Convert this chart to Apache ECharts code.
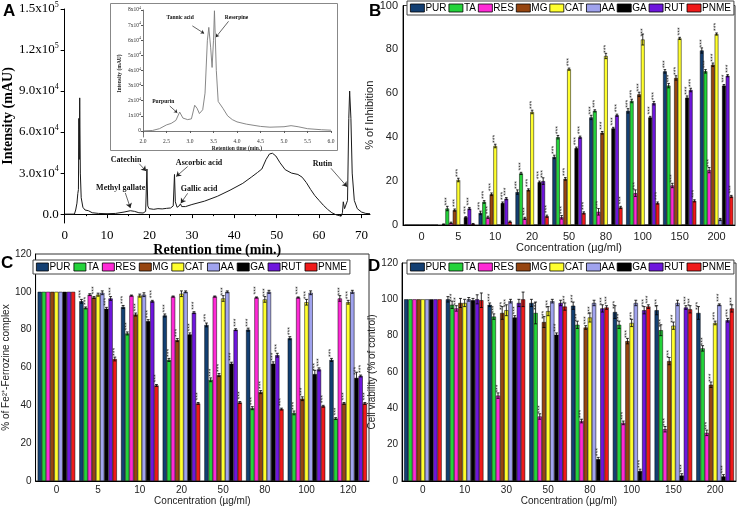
<!DOCTYPE html>
<html><head><meta charset="utf-8">
<script src="https://cdn.jsdelivr.net/npm/echarts@6/dist/echarts.min.js"></script>
<style>html,body{margin:0;padding:0;background:#fff}#c{width:737px;height:508px}</style>
</head><body><div id="c"></div>
<script>
// ---------- Panel A: HPLC chromatogram (time in min, intensity in mAU) ----------
const chromTime = [0,2.3,2.6,2.9,3.1,3.25,3.35,3.45,3.55,3.7,3.9,4.3,4.8,5.2,5.6,6.5,8,10,12,14,15.5,16.5,17.5,18.5,19.1,19.4,19.6,19.9,21,22,23,24,25,25.6,25.9,26.1,26.5,27,27.3,27.6,28.5,30,33,36,39,42,44,45.5,46.5,47.5,48.3,49,49.8,50.8,52,53.5,55,56,57,58,59,60,61,62,63,64,65.2,65.5,65.7,66,66.4,66.7,67.0,67.2,67.5,67.8,68.3,69,70,71,72];
const chromIntensity = [0,0,3000,8000,15000,18000,70000,40000,85000,30000,12000,5000,3000,4000,2500,1000,500,300,500,1500,2500,2000,1000,800,2000,33000,6000,4000,3500,4000,3800,4200,4500,6000,29000,9000,5000,6000,7500,5500,5500,7000,9500,13000,17500,22500,27000,30500,33000,40000,44000,44500,42500,37500,32500,30000,29000,27000,23000,18000,13500,10000,6500,3500,1000,-500,-1500,1000,9000,4000,3000,10000,70000,90000,70000,30000,10000,4000,1500,500,300];
const insetTime = [2.0,2.2,2.35,2.5,2.6,2.7,2.78,2.85,2.95,3.03,3.1,3.15,3.2,3.27,3.32,3.37,3.4,3.44,3.47,3.5,3.52,3.56,3.6,3.7,3.8,3.9,4.0,4.2,4.5,4.7,5.0,5.15,5.3,5.5,5.8,6.0];
const insetIntensity = [0,300,1500,4000,5000,7000,12500,8500,7500,8000,17000,15000,11500,14000,25000,60000,68500,55000,42000,60000,79500,40000,19500,15000,10000,7500,6000,4500,3000,2500,2800,3500,2800,1500,800,500];
const mainTicksX = [0,10,20,30,40,50,60,70];
const mainTicksY = [0,30000,60000,90000,120000,150000];
const insetTicksX = [2.0,2.5,3.0,3.5,4.0,4.5,5.0,5.5,6.0];
const insetTicksY = [0,10000,20000,30000,40000,50000,60000,70000,80000];
// peak annotations: [label, labelTime, labelIntensity, arrowFromTime, arrowFromInt, arrowToTime, arrowToInt]
const mainPeaks = [
  ['Catechin',14.5,39800,17.6,36800,19.2,31500],
  ['Methyl gallate',13.2,19300,14.3,15500,15.5,4500],
  ['Ascorbic acid',31.7,37300,29.0,34800,26.3,27500],
  ['Gallic acid',31.7,18200,29.0,15200,27.4,8000],
  ['Rutin',60.8,36800,62.8,33500,66.6,20000]
];
const insetPeaks = [
  ['Tannic acid',2.79,75000,3.05,69500,3.3,64500],
  ['Reserpine',3.99,75000,3.82,72500,3.55,62000],
  ['Purpurin',2.43,19500,2.57,16500,2.73,12000]
];

// ---------- Bar panels ----------
const compounds = ['PUR','TA','RES','MG','CAT','AA','GA','RUT','PNME'];
const compoundColors = ['#133f72','#24d33b','#ff2ad6','#964510','#ffff2e','#a0a3ee','#000000','#6e16dd','#f01a1a'];

// B: % of inhibition (mean, error)
const inhibitionConc = ['0','5','10','20','50','80','100','150','200'];
const inhPUR  = [0,0.3,5.5,15,31,49,52,70,79.5];
const inhTA   = [0,7.5,10.5,23.5,40,52,56.5,63.5,70];
const inhRES  = [0,1,3.5,3,3.5,6,14.5,18,25];
const inhMG   = [0,6.8,14,16,21,42,59.5,67,73];
const inhCAT  = [0,20.5,36,51.5,71,77,84.5,85,87];
const inhAA   = [0,0,0,0,0,0,0,0,2.5];
const inhGA   = [0,3.5,10,19.5,35,44,49,58,63.5];
const inhRUT  = [0,7.5,12,20,40,50,55.5,61.5,68];
const inhPNME = [0,0.5,1.5,4,5.5,8,10,11,13];
const errInhPUR  = [0,0.2,0.8,1,0.8,1,1,0.8,1.2];
const errInhTA   = [0,1,0.6,0.5,0.8,0.5,0.8,1,0.8];
const errInhRES  = [0,0.3,0.5,0.5,0.8,1.5,1.5,1,1.2];
const errInhMG   = [0,0.5,0.6,0.5,0.6,0.6,1,1,0.8];
const errInhCAT  = [0,0.8,0.8,0.8,0.5,1.2,2.5,0.5,0.5];
const errInhAA   = [0,0,0,0,0,0,0,0,0.5];
const errInhGA   = [0,0.3,0.5,0.5,0.5,0.5,0.5,0.8,0.5];
const errInhRUT  = [0,0.5,0.5,1.5,0.5,0.5,0.8,0.8,0.5];
const errInhPNME = [0,0.2,0.3,0.5,0.5,0.5,0.5,0.5,0.5];

// C: % of Fe2+-Ferrozine complex (mean, error)
const chelationConc = ['0','5','10','20','50','80','100','120'];
const chePUR  = [100,95,92,87.5,82.5,80,75.5,64];
const cheTA   = [100,91.5,78,64,53.5,38.5,36,33];
const cheRES  = [100,98.5,98,97.5,97.5,97,97,96.5];
const cheMG   = [100,97,88,74.5,56,47,43.5,41];
const cheCAT  = [100,98.5,98,99,96.5,96,94.5,94.5];
const cheAA   = [100,99.5,98.5,100,100,100,99.5,100];
const cheGA   = [100,91,84.5,77.5,62,62,56.5,54.5];
const cheRUT  = [100,96.5,95,89,80,66.5,59,55.5];
const chePNME = [100,64.5,50.5,41,41.5,38,39.5,41];
const errChePUR  = [0,1,0.8,0.8,1,0.8,0.8,0.8];
const errCheTA   = [0,0.5,0.8,0.8,1,0.8,1,0.5];
const errCheRES  = [0,0.5,0.3,0.3,0.3,0.3,0.3,1.5];
const errCheMG   = [0,0.5,0.8,0.8,0.8,0.8,1,0.5];
const errCheCAT  = [0,0.8,0.8,1.5,1.5,1.5,1.5,1];
const errCheAA   = [0,1,1,0.5,0.5,0.8,1,0.8];
const errCheGA   = [0,0.8,0.8,0.8,0.8,1,2,3];
const errCheRUT  = [0,1,0.5,0.5,0.5,1,0.8,0.5];
const errChePNME = [0,1,0.5,0.5,0.5,0.5,0.5,0.5];

// D: cell viability (% of control) (mean, error)
const viabilityConc = ['0','10','30','50','80','100','150','200'];
const viaPUR  = [100,100,97,98,96.5,93,94,92.5];
const viaTA   = [100,97,90.5,92.5,86,86,83,73];
const viaRES  = [100,95,47,35.5,33,32,28.5,26.5];
const viaMG   = [100,98,92.5,87.5,84.5,77,66,53];
const viaCAT  = [100,98,94,93.5,90,87,85.5,87];
const viaAA   = [100,100,99,99,98,98,98,97];
const viaGA   = [100,99.5,90,80.5,12,5.5,3,2.5];
const viaRUT  = [100,100,98,98,95,94,95.5,88.5];
const viaPNME = [100,99.5,100,96,95.5,96,94.5,95];
const errViaPUR  = [0,1.5,1,2,2,3.5,2.5,3.5];
const errViaTA   = [0,2,1.5,6,2,2,3,1.5];
const errViaRES  = [0,1.5,1.5,1.5,1,1,1.5,1.5];
const errViaMG   = [0,2.5,3.5,3,1,1.5,2,1.5];
const errViaCAT  = [0,2,3,2.5,2.5,2,2,1];
const errViaAA   = [0,1,1,1,1.5,1.5,1.5,0.5];
const errViaGA   = [0,1,1,1,1,1,1,1];
const errViaRUT  = [0,2.5,2,1.5,2,2,1,1];
const errViaPNME = [0,4,4,2,1,1,2,2];

const panelB = [inhPUR,inhTA,inhRES,inhMG,inhCAT,inhAA,inhGA,inhRUT,inhPNME];
const panelC = [chePUR,cheTA,cheRES,cheMG,cheCAT,cheAA,cheGA,cheRUT,chePNME];
const panelD = [viaPUR,viaTA,viaRES,viaMG,viaCAT,viaAA,viaGA,viaRUT,viaPNME];
const errB = [errInhPUR,errInhTA,errInhRES,errInhMG,errInhCAT,errInhAA,errInhGA,errInhRUT,errInhPNME];
const errC = [errChePUR,errCheTA,errCheRES,errCheMG,errCheCAT,errCheAA,errCheGA,errCheRUT,errChePNME];
const errD = [errViaPUR,errViaTA,errViaRES,errViaMG,errViaCAT,errViaAA,errViaGA,errViaRUT,errViaPNME];

// ---------- build ----------
const serif = 'Liberation Serif, Times New Roman, serif';
const sans = 'Liberation Sans, Arial, sans-serif';

function sciMain(v){
  if (v === 0) return '{m|0.0}';
  const e = Math.floor(Math.log10(v) + 1e-9);
  return '{m|' + (v/Math.pow(10,e)).toFixed(1) + 'x10}{s|' + e + '}';
}
function sciInset(v){
  if (v === 0) return '{m|0}';
  const e = Math.floor(Math.log10(v) + 1e-9);
  return '{m|' + Math.round(v/Math.pow(10,e)) + 'x10}{s|' + e + '}';
}

const chart = echarts.init(document.getElementById('c'), null, {renderer:'canvas'});

const frame = {show:true, borderColor:'#333', borderWidth:1, backgroundColor:'transparent'};
const grids = [
  {left:61, top:9, width:309, height:214},          // A main
  {left:143, top:10, width:188, height:127},        // A inset
  Object.assign({left:403, top:5, width:332, height:220}, frame),   // B
  Object.assign({left:31, top:254, width:338, height:227}, frame),  // C
  Object.assign({left:402, top:263, width:334, height:218}, frame)  // D
];

const xAxes = [
  {gridIndex:0, type:'value', min:0, max:72,
   axisLine:{lineStyle:{color:'#000', width:1}},
   axisTick:{customValues:mainTicksX, length:4, lineStyle:{color:'#000'}},
   minorTick:{show:true, splitNumber:2, length:2, lineStyle:{color:'#000'}},
   axisLabel:{customValues:mainTicksX, color:'#000', fontFamily:serif, fontSize:13, margin:6},
   splitLine:{show:false},
   name:'Retention time (min.)', nameLocation:'middle', nameGap:18,
   nameTextStyle:{fontFamily:serif, fontWeight:'bold', fontSize:14, color:'#000'}},
  {gridIndex:1, type:'value', min:2, max:6,
   axisLine:{lineStyle:{color:'#555', width:0.8}},
   axisTick:{customValues:insetTicksX, length:2, lineStyle:{color:'#555'}},
   axisLabel:{customValues:insetTicksX, color:'#333', fontFamily:serif, fontSize:5.5, margin:2,
     formatter:v=>v.toFixed(1)},
   splitLine:{show:false},
   name:'Retention time (min.)', nameLocation:'middle', nameGap:9,
   nameTextStyle:{fontFamily:serif, fontWeight:'bold', fontSize:5.5, color:'#222'}},
  {gridIndex:2, type:'category', data:inhibitionConc,
   axisLine:{lineStyle:{color:'#000'}}, axisTick:{show:false},
   axisLabel:{color:'#222', fontFamily:sans, fontSize:11, margin:6},
   name:'Concentration (µg/ml)', nameLocation:'middle', nameGap:17,
   nameTextStyle:{fontFamily:sans, fontSize:11, color:'#222'}},
  {gridIndex:3, type:'category', data:chelationConc,
   axisLine:{lineStyle:{color:'#000'}}, axisTick:{show:false},
   axisLabel:{color:'#222', fontFamily:sans, fontSize:10, margin:4},
   name:'Concentration (µg/ml)', nameLocation:'middle', nameGap:15,
   nameTextStyle:{fontFamily:sans, fontSize:10, color:'#222'}},
  {gridIndex:4, type:'category', data:viabilityConc,
   axisLine:{lineStyle:{color:'#000'}}, axisTick:{show:false},
   axisLabel:{color:'#222', fontFamily:sans, fontSize:10, margin:4},
   name:'Concentration (µg/ml)', nameLocation:'middle', nameGap:15,
   nameTextStyle:{fontFamily:sans, fontSize:10, color:'#222'}}
];

const yAxes = [
  {gridIndex:0, type:'value', min:-6500, max:150000,
   axisLine:{show:true, lineStyle:{color:'#000', width:1}},
   axisTick:{show:true, customValues:mainTicksY, length:4, lineStyle:{color:'#000'}},
   axisLabel:{customValues:mainTicksY, formatter:sciMain, margin:6,
     rich:{m:{fontFamily:serif, fontSize:13, color:'#000'}, s:{fontFamily:serif, fontSize:8, color:'#000', verticalAlign:'top', padding:[0,0,8,0]}}},
   splitLine:{show:false},
   name:'Intensity (mAU)', nameLocation:'middle', nameGap:37,
   nameTextStyle:{fontFamily:serif, fontWeight:'bold', fontSize:14, color:'#000'}},
  {gridIndex:1, type:'value', min:-4000, max:80000,
   axisLine:{show:true, lineStyle:{color:'#555', width:0.8}},
   axisTick:{show:true, customValues:insetTicksY, length:2, lineStyle:{color:'#555'}},
   axisLabel:{customValues:insetTicksY, formatter:sciInset, margin:2,
     rich:{m:{fontFamily:serif, fontSize:5.5, color:'#333'}, s:{fontFamily:serif, fontSize:4, color:'#333', padding:[0,0,4,0]}}},
   splitLine:{show:false},
   name:'Intensity (mAU)', nameLocation:'middle', nameGap:20,
   nameTextStyle:{fontFamily:serif, fontWeight:'bold', fontSize:5.5, color:'#222'}},
  {gridIndex:2, type:'value', min:0, max:100, interval:20,
   axisLine:{show:true, lineStyle:{color:'#000'}}, axisTick:{show:false},
   axisLabel:{color:'#222', fontFamily:sans, fontSize:11, margin:5},
   splitLine:{show:false},
   name:'% of Inhibition', nameLocation:'middle', nameGap:24,
   nameTextStyle:{fontFamily:sans, fontSize:11, color:'#222'}},
  {gridIndex:3, type:'value', min:0, max:120, interval:20,
   axisLine:{show:true, lineStyle:{color:'#000'}}, axisTick:{show:false},
   axisLabel:{color:'#222', fontFamily:sans, fontSize:10, margin:4},
   splitLine:{show:false},
   name:'% of Fe²⁺-Ferrozine complex', nameLocation:'middle', nameGap:20,
   nameTextStyle:{fontFamily:sans, fontSize:10, color:'#222'}},
  {gridIndex:4, type:'value', min:0, max:120, interval:20,
   axisLine:{show:true, lineStyle:{color:'#000'}}, axisTick:{show:false},
   axisLabel:{color:'#222', fontFamily:sans, fontSize:10, margin:4},
   splitLine:{show:false},
   name:'Cell viability (% of control)', nameLocation:'middle', nameGap:24,
   nameTextStyle:{fontFamily:sans, fontSize:10, color:'#222'}}
];

function annotate(peaks, fontSize){
  return {
    markPoint:{
      silent:true, animation:false, symbol:'circle', symbolSize:0,
      data: peaks.map(p => ({name:p[0], coord:[p[1],p[2]],
        label:{show:true, position:'inside', formatter:p[0], fontFamily:serif, fontWeight:'bold', fontSize:fontSize, color:'#111'}}))
    },
    markLine:{
      silent:true, animation:false, symbol:['none','arrow'], symbolSize:fontSize*0.6,
      lineStyle:{color:'#222', width:0.7, type:'solid'}, label:{show:false},
      data: peaks.map(p => [{coord:[p[3],p[4]]},{coord:[p[5],p[6]]}])
    }
  };
}

const series = [];
series.push(Object.assign({
  type:'line', name:'chrom', xAxisIndex:0, yAxisIndex:0, symbol:'none', animation:false,
  lineStyle:{color:'#1a1a1a', width:1}, z:3,
  data: chromTime.map((t,i)=>[t, chromIntensity[i]])
}, annotate(mainPeaks, 8)));
series.push(Object.assign({
  type:'line', name:'inset', xAxisIndex:1, yAxisIndex:1, symbol:'none', animation:false,
  lineStyle:{color:'#7a7a7a', width:0.9}, z:5,
  data: insetTime.map((t,i)=>[t, insetIntensity[i]])
}, annotate(insetPeaks, 5.5)));

const CAT_GAP = 0.10;
function addBars(panel, errs, axisIdx, control){
  panel.forEach((vals, i) => {
    series.push({
      type:'bar', name:compounds[i], xAxisIndex:axisIdx, yAxisIndex:axisIdx, animation:false,
      data: vals, barGap:'0%', barCategoryGap:(CAT_GAP*100)+'%', z:2,
      itemStyle:{color:compoundColors[i], borderColor:'#000', borderWidth:0.5},
      label:{show:true, position:'top', rotate:90, align:'left', verticalAlign:'middle', distance:3,
        fontSize:7, color:'#333', fontFamily:sans,
        formatter: p => (p.dataIndex > 0 && Math.abs(p.value - control) > 2.5) ? '***' : ''}
    });
  });
  // error bars
  const errData = [];
  panel.forEach((vals, i) => vals.forEach((v, c) => { if (errs[i][c] > 0) errData.push([c, i, v, errs[i][c]]); }));
  const n = panel.length;
  series.push({
    type:'custom', name:'err'+axisIdx, xAxisIndex:axisIdx, yAxisIndex:axisIdx, animation:false, silent:true, z:4,
    encode:{x:0, y:2},
    data: errData,
    renderItem:(params, api) => {
      const c = api.value(0), i = api.value(1), v = api.value(2), e = api.value(3);
      const band = api.size([1,0])[0];
      const bw = band*(1-CAT_GAP)/n;
      const center = api.coord([c, v]);
      const x = center[0] - band*(1-CAT_GAP)/2 + (i+0.5)*bw;
      const top = api.coord([c, v+e])[1];
      const bot = api.coord([c, v-e])[1];
      const cap = bw*0.35;
      const st = {stroke:'#000', lineWidth:0.8};
      return {type:'group', children:[
        {type:'line', shape:{x1:x, y1:top, x2:x, y2:bot}, style:st},
        {type:'line', shape:{x1:x-cap, y1:top, x2:x+cap, y2:top}, style:st},
        {type:'line', shape:{x1:x-cap, y1:bot, x2:x+cap, y2:bot}, style:st}
      ]};
    }
  });
}
addBars(panelB, errB, 2, 0);
addBars(panelC, errC, 3, 100);
addBars(panelD, errD, 4, 100);

function mkLegend(left, top, iw, gap){
  return {data:compounds, left:left, top:top, orient:'horizontal', itemWidth:iw, itemHeight:8, itemGap:gap,
    icon:'rect', padding:[2,3,2,3], borderColor:'#444', borderWidth:1, backgroundColor:'#fff',
    selectedMode:false, z:10, width:340,
    textStyle:{fontSize:10, fontFamily:sans, color:'#000', padding:[0,0,0,-4]},
    itemStyle:{borderColor:'#000', borderWidth:0.8}};
}

const letter = (t,x,y)=>({type:'text', left:x, top:y, style:{text:t, font:'bold 17px '+sans, fill:'#000'}});

chart.setOption({
  animation:false,
  backgroundColor:'#fff',
  grid: grids,
  xAxis: xAxes,
  yAxis: yAxes,
  legend: [mkLegend(407,1,14,2), mkLegend(33,260,12,3), mkLegend(407,260,14,2)],
  graphic: [
    {type:'rect', left:110, top:3, z:0, shape:{width:227, height:147}, style:{fill:'#fff', stroke:'#888', lineWidth:1}},
    letter('A',3,3), letter('B',369,3), letter('C',1,255), letter('D',368,258)
  ],
  series: series
});
</script></body></html>
